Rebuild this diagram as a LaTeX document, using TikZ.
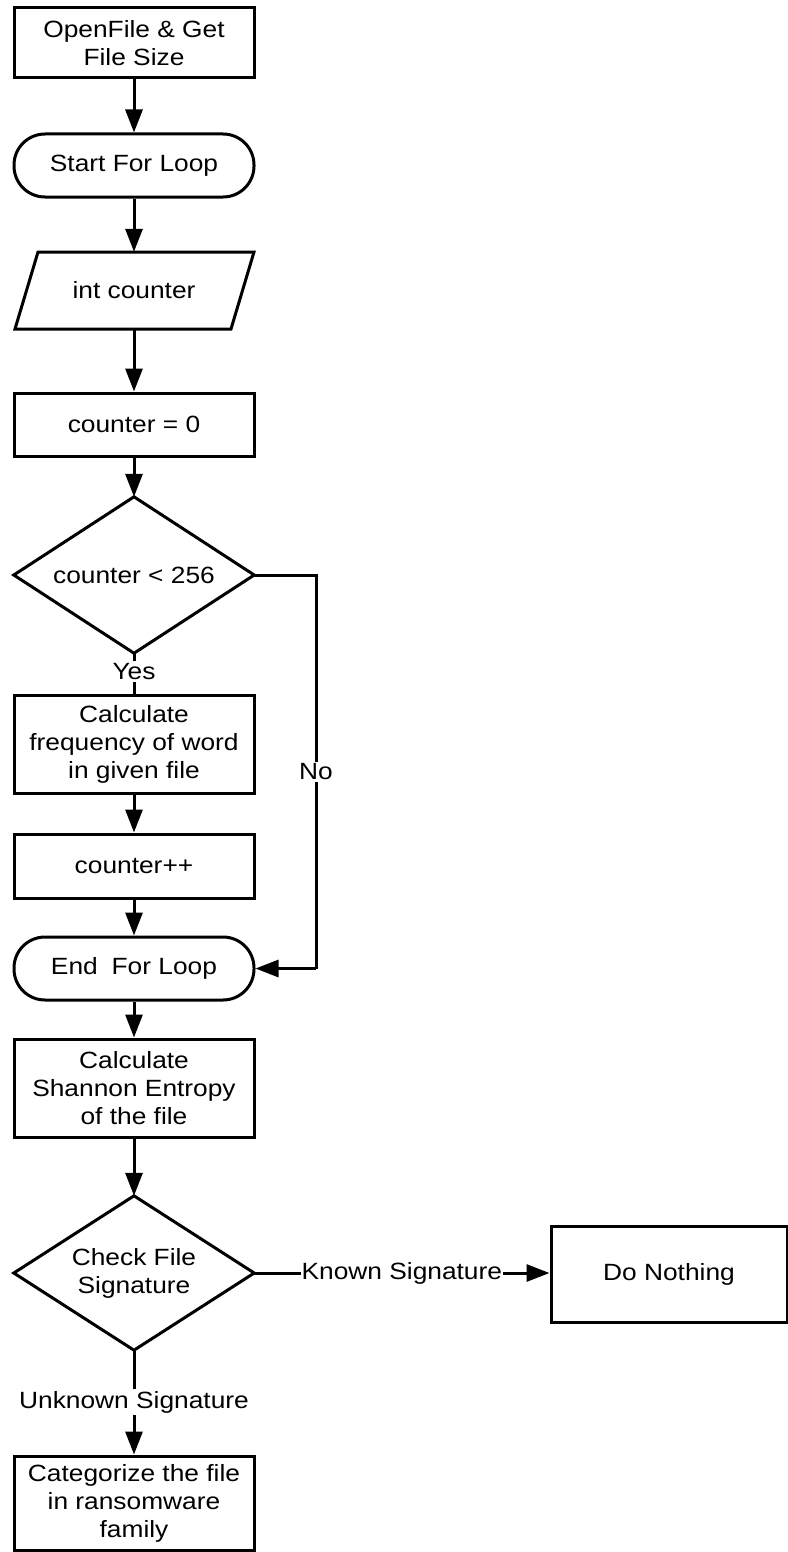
\documentclass[tikz,border=0pt]{standalone}
\usepackage{fontspec}
\setmainfont{Liberation Sans}[FakeStretch=1.12]
\usetikzlibrary{arrows.meta}
\begin{document}
\begin{tikzpicture}[x=1pt,y=-1pt,
  every node/.style={font=\fontsize{23.5}{28}\selectfont, align=center, inner sep=0pt},
  procbox/.style={draw, line width=3pt, minimum width=240pt},
  term/.style={draw, line width=3pt, minimum width=240pt, minimum height=63pt, rounded corners=31pt},
  decision/.style={draw=none, minimum width=240pt, minimum height=156pt},
  flow/.style={line width=3pt, -{Triangle[length=23pt,width=17pt]}},
  plainline/.style={line width=3pt},
  lbl/.style={fill=white, inner sep=2pt}]
\useasboundingbox (0,0) rectangle (787,1552);

% process steps down the left column
\node[procbox, minimum height=70pt] (open) at (134,43) {OpenFile \& Get\\File Size};
\node[term] (start) at (134,165.5) {Start For Loop};
\node[minimum width=240pt, minimum height=77pt] (inp) at (134,290.5) {int counter};
\draw[line width=3pt, line join=miter] (38,252) -- (254,252) -- (231,329) -- (15,329) -- cycle;
\node[procbox, minimum height=63pt] (init) at (134,424.5) {counter = 0};
\node[decision] (cond) at (134,575) {counter < 256};
\draw[line width=3pt] (cond.north) -- (cond.east) -- (cond.south) -- (cond.west) -- cycle;
\node[procbox, minimum height=98pt] (freq) at (134,744) {Calculate\\frequency of word\\in given file};
\node[procbox, minimum height=64pt] (incr) at (134,866) {counter++};
\node[term] (stop) at (134,968.5) {End\hspace{0.28em} For Loop};
\node[procbox, minimum height=98pt] (entropy) at (134,1088) {Calculate\\Shannon Entropy\\of the file};
\node[decision, minimum height=154pt] (sig) at (134,1273) {Check File\\Signature};
\draw[line width=3pt] (sig.north) -- (sig.east) -- (sig.south) -- (sig.west) -- cycle;
\node[procbox, minimum width=236pt, minimum height=96pt] (none) at (669,1274) {Do Nothing};
\node[procbox, minimum height=94pt] (cat) at (134,1503) {Categorize the file\\in ransomware\\family};

% connectors
\draw[flow] (open) -- (start);
\draw[flow] (start) -- (inp);
\draw[flow] (inp) -- (init);
\draw[flow] (init) -- (cond);
\draw[plainline] (cond.south) -- node[lbl, pos=0.45] {Yes} (freq.north);
\draw[flow] (freq) -- (incr);
\draw[flow] (incr) -- (stop);
\coordinate (bendtop) at (316,575);
\coordinate (bendbot) at (316,968.5);
\draw[plainline] (cond.east) -- (bendtop) -- node[lbl] {No} (bendbot);
\draw[flow] (bendbot) -- (stop.east);
\draw[flow] (stop) -- (entropy);
\draw[flow] (entropy) -- (sig);
\draw[flow] (sig.east) -- node[lbl, inner sep=1pt] {Known Signature} (none.west |- sig.east);
\draw[flow] (sig.south) -- node[lbl] {Unknown Signature} (cat.north);
\end{tikzpicture}
\end{document}
